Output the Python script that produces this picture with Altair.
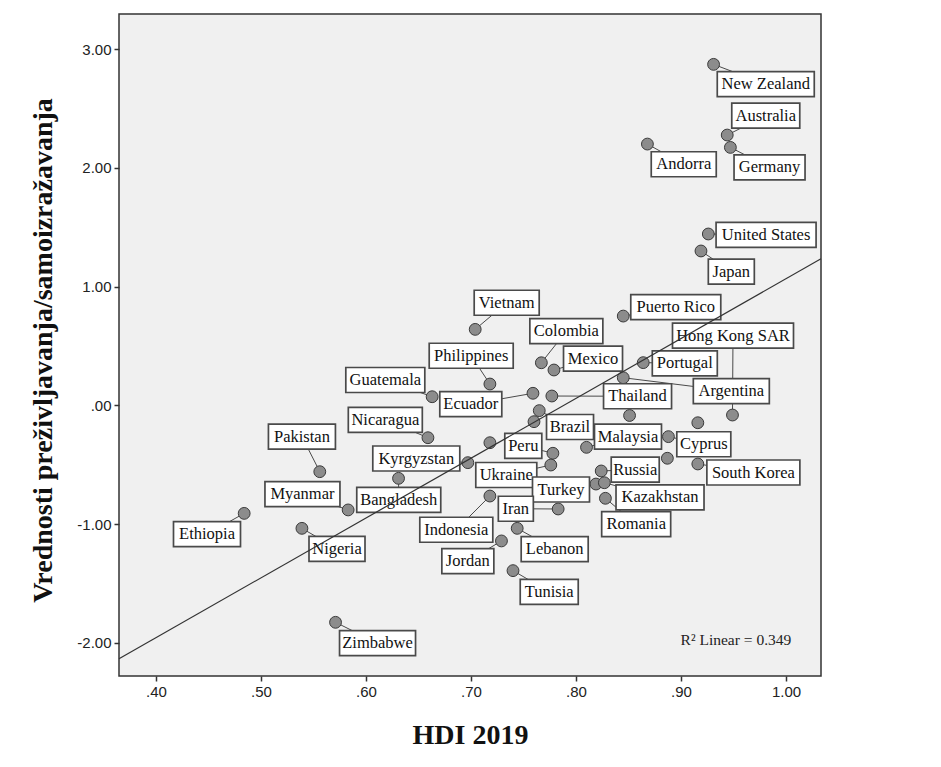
import altair as alt
import pandas as pd

# ---------------- data ----------------
countries = ["New Zealand", "Australia", "Germany", "Andorra", "United States", "Japan",
             "Puerto Rico", "Vietnam", "Colombia", "Mexico", "Portugal", "Argentina",
             "Hong Kong SAR", "Philippines", "Guatemala", "Ecuador", "Thailand", "Brazil",
             "Malaysia", "Cyprus", "South Korea", "Peru", "Ukraine", "Russia", "Turkey",
             "Kazakhstan", "Romania", "Iran", "Indonesia", "Lebanon", "Jordan", "Tunisia",
             "Nicaragua", "Kyrgyzstan", "Bangladesh", "Pakistan", "Myanmar", "Ethiopia",
             "Nigeria", "Zimbabwe", "", "", "", "", ""]

hdi = [0.931, 0.944, 0.947, 0.868, 0.926, 0.919,
       0.845, 0.704, 0.767, 0.779, 0.864, 0.845,
       0.949, 0.718, 0.663, 0.759, 0.777, 0.765,
       0.810, 0.888, 0.916, 0.778, 0.776, 0.824, 0.819,
       0.827, 0.828, 0.783, 0.718, 0.744, 0.729, 0.740,
       0.659, 0.697, 0.631, 0.556, 0.583, 0.484,
       0.539, 0.571, 0.718, 0.760, 0.851, 0.916, 0.887]

values = [2.871, 2.276, 2.172, 2.200, 1.443, 1.300,
          0.752, 0.640, 0.359, 0.298, 0.360, 0.233,
          -0.081, 0.180, 0.073, 0.102, 0.079, -0.044,
          -0.353, -0.263, -0.493, -0.403, -0.502, -0.552, -0.662,
          -0.651, -0.782, -0.872, -0.763, -1.035, -1.141, -1.391,
          -0.272, -0.482, -0.614, -0.558, -0.880, -0.909,
          -1.035, -1.826, -0.314, -0.137, -0.085, -0.146, -0.445]

# label anchor (centre of each label box) in data units, first 40 countries
label_hdi = [0.9807, 0.9807, 0.9843, 0.9026, 0.9810, 0.9479,
             0.8950, 0.7340, 0.7908, 0.8162, 0.9036, 0.9479,
             0.9495, 0.7002, 0.6184, 0.6998, 0.8586, 0.7943,
             0.8495, 0.9217, 0.9689, 0.7498, 0.7336, 0.8564, 0.7857,
             0.8800, 0.8573, 0.7427, 0.6860, 0.7797, 0.6970, 0.7745,
             0.6184, 0.6479, 0.6312, 0.5390, 0.5395, 0.4486,
             0.5724, 0.6110]
label_value = [2.704, 2.440, 2.003, 2.030, 1.436, 1.127,
               0.828, 0.864, 0.625, 0.393, 0.354, 0.120,
               0.588, 0.418, 0.214, 0.010, 0.077, -0.182,
               -0.262, -0.327, -0.565, -0.340, -0.586, -0.540, -0.708,
               -0.775, -1.000, -0.870, -1.047, -1.210, -1.311, -1.569,
               -0.121, -0.447, -0.796, -0.262, -0.747, -1.084,
               -1.207, -2.002]

x_ticks = [0.4, 0.5, 0.6, 0.7, 0.8, 0.9, 1.0]
y_ticks = [-2, -1, 0, 1, 2, 3]
x_domain = [0.3648, 1.0333]
y_domain = [-2.278, 3.295]
r2_text = ["R\u00b2 Linear = 0.349"]
r2_pos_hdi = [1.005]
r2_pos_value = [-1.975]

# ---------------- layout / style ----------------
box_width = [97, 68, 71, 65, 100, 46,
             90, 65, 73, 59, 65, 76,
             121, 84, 79, 62, 68, 47,
             67, 54, 93, 37, 61, 48, 57,
             88, 69, 35, 73, 67, 52, 58,
             74, 87, 84, 67, 75, 67,
             56, 76]
BOX_H = 25

n_lab = len(label_hdi)
df = pd.DataFrame({"country": countries, "hdi": hdi, "value": values})
lab = pd.DataFrame({
    "country": countries[:n_lab],
    "hdi": hdi[:n_lab],
    "value": values[:n_lab],
    "lx": label_hdi,
    "ly": label_value,
    "shape": [f"M{-w/2},{-BOX_H/2}H{w/2}V{BOX_H/2}H{-w/2}Z" for w in box_width],
})
r2 = pd.DataFrame({"t": r2_text, "x": r2_pos_hdi, "y": r2_pos_value})

label_expr = ("replace(abs(datum.value) < 1 ? substring(format(datum.value, '.2f'), 1) "
              ": format(datum.value, '.2f'), '\u2212', '-')")
xs = alt.Scale(domain=x_domain, nice=False, zero=False)
ys = alt.Scale(domain=y_domain, nice=False, zero=False)
xaxis = alt.Axis(values=x_ticks, labelExpr=label_expr, titleX=351, titleY=59,
                 titleBaseline="middle", titleAlign="center")
yaxis = alt.Axis(values=y_ticks, labelExpr=label_expr, titleX=-76, titleY=336,
                 titleBaseline="middle", titleAlign="center", titleAngle=-90)
XT = "HDI 2019"
YT = "Vrednosti preživljavanja/samoizražavanja"


def X(f):
    return alt.X(f"{f}:Q", scale=xs, axis=xaxis, title=XT)


def Y(f):
    return alt.Y(f"{f}:Q", scale=ys, axis=yaxis, title=YT)


leaders = alt.Chart(lab).mark_rule(color="#4a4a4a", strokeWidth=1).encode(
    x=X("hdi"), y=Y("value"), x2="lx:Q", y2="ly:Q")

points = alt.Chart(df).mark_circle(size=140, color="#8c8c8c", stroke="#3a3a3a",
                                   strokeWidth=1, opacity=1).encode(
    x=X("hdi"), y=Y("value"))

boxes = alt.Chart(lab).mark_point(filled=True, color="white", stroke="#4a4a4a",
                                  strokeWidth=1.7, size=4, opacity=1).encode(
    x=X("lx"), y=Y("ly"), shape=alt.Shape("shape:N", scale=None))

texts = alt.Chart(lab).mark_text(font="Liberation Serif", fontSize=16.5, color="#111111",
                                 baseline="middle", align="center").encode(
    x=X("lx"), y=Y("ly"), text="country:N")

reg = alt.Chart(df).transform_regression("hdi", "value", extent=x_domain).mark_line(
    color="#333333", strokeWidth=1.2).encode(x=X("hdi"), y=Y("value"))

r2_mark = alt.Chart(r2).mark_text(font="Liberation Serif", fontSize=15.5, color="#222222",
                                  align="right", baseline="middle").encode(
    x=X("x"), y=Y("y"), text="t:N")

chart = alt.layer(leaders, points, boxes, texts, reg, r2_mark).properties(
    width=702, height=662,
    autosize=alt.AutoSizeParams(type="none"),
    padding={"left": 111, "top": 6, "right": 10, "bottom": 80},
    background="white",
).configure_view(
    fill="#f0f0f0", stroke="#333333", strokeWidth=1.5
).configure_axis(
    domain=False, grid=False, tickColor="#333333", tickSize=5, tickWidth=1.5,
    labelFont="Liberation Sans", labelFontSize=15, labelColor="#222222", labelPadding=3,
    titleFont="Liberation Serif", titleFontWeight="bold", titleFontSize=28,
    titleColor="#111111"
)

chart.save("out.html", embed_options={"renderer": "svg", "actions": False})
